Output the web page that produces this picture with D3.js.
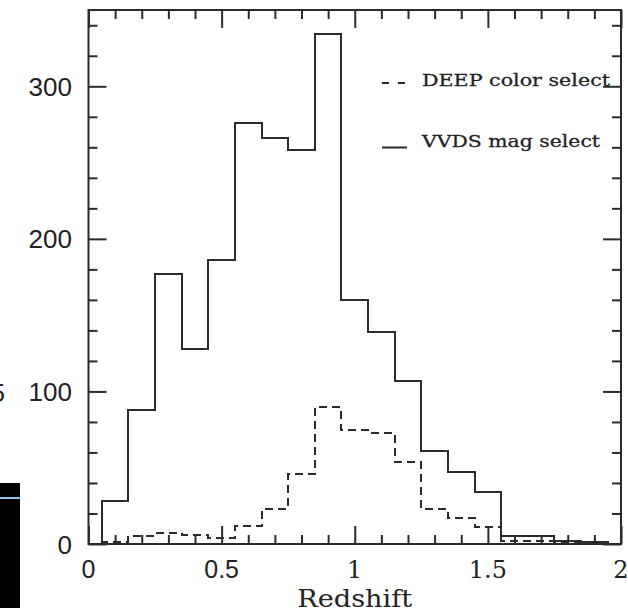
<!DOCTYPE html>
<html>
<head>
<meta charset="utf-8">
<script src="https://cdn.jsdelivr.net/npm/d3@7"></script>
<style>
  html, body { margin: 0; padding: 0; background: #fff; }
  svg { display: block; }
</style>
</head>
<body>
<svg id="chart" width="628" height="608"></svg>
<script>
// Redshift histograms, bins 0.1 wide, centred on these values
const binCenters = [0.1, 0.2, 0.3, 0.4, 0.5, 0.6, 0.7, 0.8, 0.9, 1.0,
                    1.1, 1.2, 1.3, 1.4, 1.5, 1.6, 1.7, 1.8, 1.9];
const binWidth = 0.1;
// VVDS magnitude-selected sample (solid)
const vvdsCounts = [28, 88, 177, 128, 186, 276, 266, 258, 334, 160,
                    139, 107, 61, 47, 34, 5, 5, 2, 1];
// DEEP colour-selected sample (dashed)
const deepCounts = [1, 5, 7, 6, 4, 12, 23, 46, 90, 75,
                    73, 54, 23, 17, 11, 2, 2, 1, 1];

const xMajorTicks = [0, 0.5, 1, 1.5, 2];
const xTickLabels = ["0", "0.5", "1", "1.5", "2"];
const xLabelSerif = [false, false, true, true, true];
const yMajorTicks = [0, 100, 200, 300];
const yTickLabels = ["0", "100", "200", "300"];
const legendLabels = ["DEEP color select", "VVDS mag select"];
const xTitle = "Redshift";

const ink = "#2b2b2b";
const svg = d3.select("#chart");

const x = d3.scaleLinear().domain([0, 2]).range([88.5, 621]);
const y = d3.scaleLinear().domain([0, 350]).range([544, 10]);

// Remnant of the surrounding slide on the left edge
svg.append("rect").attr("x", 0).attr("y", 483).attr("width", 20).attr("height", 125).attr("fill", "#000");
svg.append("rect").attr("x", 0).attr("y", 497).attr("width", 20).attr("height", 2).attr("fill", "#8fc4ee");
svg.append("text").attr("x", 5).attr("y", 402).attr("text-anchor", "end")
  .attr("font-family", "Liberation Sans, Arial, sans-serif").attr("font-size", 26)
  .attr("fill", "#222").text("5");

// Minor / major tick values
const xMinor = d3.range(0, 21).map(i => i / 10).filter(v => Math.abs(v * 2 - Math.round(v * 2)) > 1e-6);
const yMinor = d3.range(0, 351, 20).filter(v => v % 100 !== 0 && v < 350);

function tickAxis(axisFn, scale, values, size, transform) {
  const g = svg.append("g").attr("transform", transform)
    .call(axisFn(scale).tickValues(values).tickSize(size).tickFormat(""));
  g.select(".domain").remove();
  g.selectAll(".tick line").attr("stroke", ink).attr("stroke-width", 2);
  return g;
}

// Ticks on all four sides, pointing into the frame
tickAxis(d3.axisBottom, x, xMinor, -9, `translate(0,${y(0)})`);
tickAxis(d3.axisBottom, x, xMajorTicks, -18, `translate(0,${y(0)})`);
tickAxis(d3.axisTop, x, xMinor, -9, `translate(0,${y(350)})`);
tickAxis(d3.axisTop, x, xMajorTicks, -18, `translate(0,${y(350)})`);
tickAxis(d3.axisLeft, y, yMinor, -9, `translate(${x(0)},0)`);
tickAxis(d3.axisLeft, y, yMajorTicks, -18, `translate(${x(0)},0)`);
tickAxis(d3.axisRight, y, yMinor, -9, `translate(${x(2)},0)`);
tickAxis(d3.axisRight, y, yMajorTicks, -18, `translate(${x(2)},0)`);

// Step outline of a histogram
function stepPoints(counts) {
  const pts = [[binCenters[0] - binWidth / 2, 0]];
  counts.forEach((c, i) => {
    pts.push([binCenters[i] - binWidth / 2, c]);
    pts.push([binCenters[i] + binWidth / 2, c]);
  });
  pts.push([binCenters[binCenters.length - 1] + binWidth / 2, 0]);
  return pts;
}
const stepLine = d3.line()
  .x(d => Math.round(x(d[0])))
  .y(d => Math.round(y(d[1])));

svg.append("path").attr("d", stepLine(stepPoints(deepCounts)))
  .attr("fill", "none").attr("stroke", ink).attr("stroke-width", 2)
  .attr("stroke-dasharray", "8,5");
svg.append("path").attr("d", stepLine(stepPoints(vvdsCounts)))
  .attr("fill", "none").attr("stroke", ink).attr("stroke-width", 2);

// Frame
svg.append("rect")
  .attr("x", x(0)).attr("y", y(350))
  .attr("width", x(2) - x(0)).attr("height", y(0) - y(350))
  .attr("fill", "none").attr("stroke", ink).attr("stroke-width", 2);

// Y tick labels
svg.append("g").selectAll("text").data(yMajorTicks).join("text")
  .attr("x", 72).attr("y", d => y(d) + 9.5)
  .attr("text-anchor", "end")
  .attr("font-family", "Liberation Sans, Arial, sans-serif").attr("font-size", 26)
  .attr("fill", "#222")
  .text((d, i) => yTickLabels[i]);

// X tick labels
svg.append("g").selectAll("text").data(xMajorTicks).join("text")
  .attr("x", d => x(d)).attr("y", 578)
  .attr("text-anchor", "middle")
  .attr("font-family", (d, i) => xLabelSerif[i] ? "DejaVu Serif, serif" : "Liberation Sans, Arial, sans-serif")
  .attr("font-size", (d, i) => xLabelSerif[i] ? 24 : 25)
  .attr("fill", "#222")
  .text((d, i) => xTickLabels[i]);

// Axis title
svg.append("text").attr("x", x(1)).attr("y", 607)
  .attr("text-anchor", "middle")
  .attr("font-family", "DejaVu Serif, serif").attr("font-size", 25)
  .attr("textLength", 115).attr("lengthAdjust", "spacingAndGlyphs")
  .attr("fill", "#222").text(xTitle);

// Legend
const legend = svg.append("g");
legend.append("line").attr("x1", 382).attr("x2", 389).attr("y1", 83).attr("y2", 83)
  .attr("stroke", ink).attr("stroke-width", 2);
legend.append("line").attr("x1", 398).attr("x2", 405).attr("y1", 83).attr("y2", 83)
  .attr("stroke", ink).attr("stroke-width", 2);
legend.append("line").attr("x1", 382).attr("x2", 407).attr("y1", 147.5).attr("y2", 147.5)
  .attr("stroke", ink).attr("stroke-width", 2);
legend.append("text").attr("x", 422).attr("y", 86)
  .attr("font-family", "DejaVu Serif, serif").attr("font-size", 17.5)
  .attr("textLength", 188).attr("lengthAdjust", "spacingAndGlyphs")
  .attr("stroke", "#222").attr("stroke-width", 0.3)
  .attr("fill", "#222").text(legendLabels[0]);
legend.append("text").attr("x", 422).attr("y", 147)
  .attr("font-family", "DejaVu Serif, serif").attr("font-size", 17.5)
  .attr("textLength", 178).attr("lengthAdjust", "spacingAndGlyphs")
  .attr("stroke", "#222").attr("stroke-width", 0.3)
  .attr("fill", "#222").text(legendLabels[1]);
</script>
</body>
</html>
